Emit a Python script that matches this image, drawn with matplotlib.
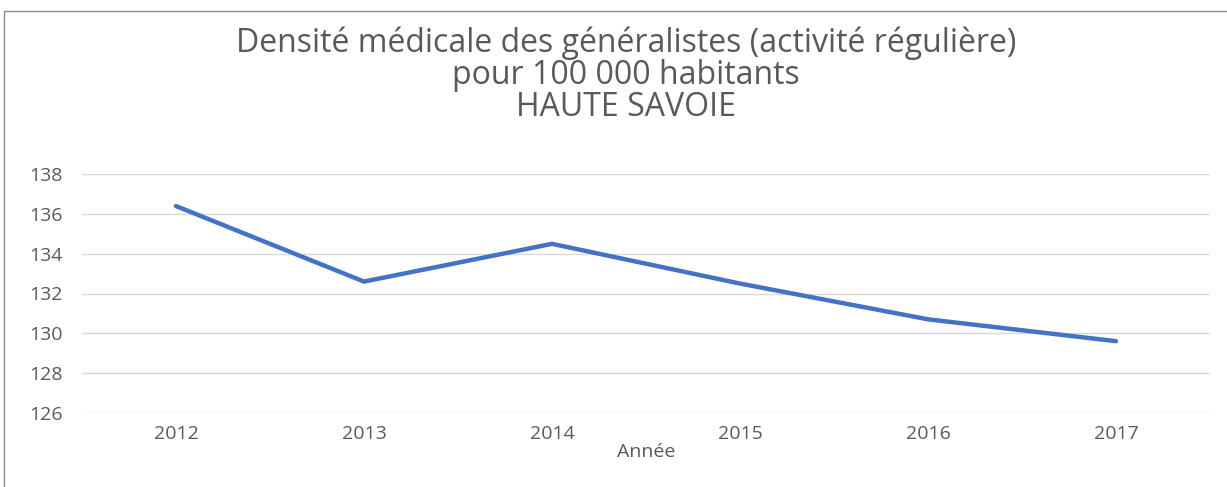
import matplotlib.pyplot as plt
from matplotlib.patches import Rectangle

# data
years = ["2012", "2013", "2014", "2015", "2016", "2017"]
densite = [136.4, 132.6, 134.5, 132.5, 130.7, 129.6]

plt.rcParams["font.family"] = ["Open Sans", "DejaVu Sans"]
GRAY = "#595959"

fig = plt.figure(figsize=(12.27, 4.87), dpi=100)
ax = fig.add_axes([82 / 1227, 1 - 412.7 / 487, (1210 - 82) / 1227, (412.7 - 174.3) / 487])

x = range(len(years))
ax.plot(x, densite, color="#4472C4", lw=3.2, solid_capstyle="round")

ax.set_xlim(-0.5, len(years) - 0.5)
ax.set_ylim(126, 138)
ax.set_yticks(range(126, 139, 2))
ax.set_xticks(list(x))
ax.set_xticklabels(years)
ax.grid(axis="y", color="#d9d9d9", lw=1)
ax.set_axisbelow(True)
for s in ax.spines.values():
    s.set_visible(False)
ax.tick_params(length=0, labelsize=14, colors=GRAY)
ax.tick_params(axis="x", pad=9)
ax.tick_params(axis="y", pad=14)
ax.set_xlabel("Année", fontsize=14, color=GRAY, labelpad=0)

fig.text(0.51, 1 - 75 / 487, "Densité médicale des généralistes (activité régulière)\npour 100 000 habitants\nHAUTE SAVOIE",
         ha="center", va="center", fontsize=23, color=GRAY, linespacing=0.96)

# chart frame
fig.patches.append(Rectangle((4 / 1227, -0.05), 1.2, 1 - 11 / 487 + 0.05,
                             transform=fig.transFigure, fill=False,
                             edgecolor="#8c8c8c", lw=1))

fig.savefig("out.png", dpi=100)
